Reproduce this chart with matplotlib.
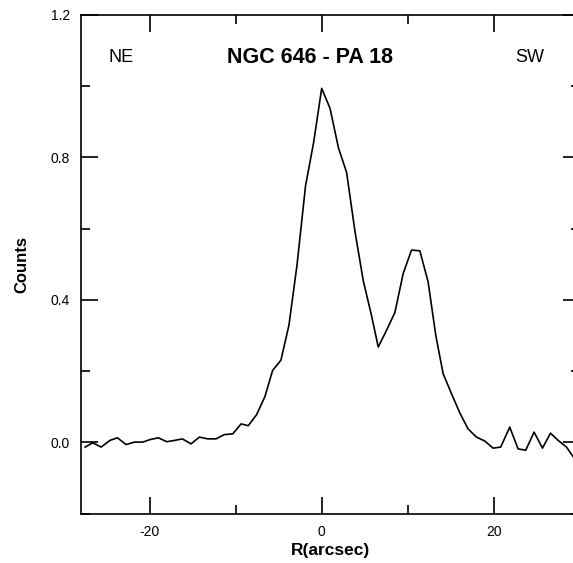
import matplotlib.pyplot as plt
from matplotlib.ticker import MultipleLocator, FormatStrFormatter

plt.rcParams['font.family'] = ['Liberation Sans', 'DejaVu Sans']
plt.rcParams['axes.unicode_minus'] = False

# perfil de intensidad a lo largo de la rendija
r_arcsec = [-27.52, -26.64, -25.66, -24.62, -23.76, -22.76, -21.79, -20.81,
            -19.97, -19.00, -18.02, -17.06, -16.21, -15.20, -14.23, -13.26,
            -12.29, -11.33, -10.35, -9.38, -8.54, -7.57, -6.60, -5.71,
            -4.74, -3.81, -2.87, -1.88, -0.93, 0.00, 0.97, 1.95,
            2.90, 3.87, 4.83, 5.79, 6.58, 7.55, 8.52, 9.48,
            10.45, 11.42, 12.38, 13.28, 14.13, 15.10, 16.07, 17.03,
            18.01, 18.97, 19.94, 20.83, 21.88, 22.85, 23.74, 24.71,
            25.69, 26.62, 27.50, 28.48, 29.45]
counts = [-0.013, -0.001, -0.013, 0.006, 0.013, -0.006, 0.001, 0.001,
          0.008, 0.013, 0.002, 0.006, 0.010, -0.004, 0.015, 0.010,
          0.010, 0.022, 0.024, 0.052, 0.047, 0.078, 0.129, 0.202,
          0.231, 0.329, 0.498, 0.720, 0.843, 0.994, 0.938, 0.827,
          0.758, 0.593, 0.455, 0.357, 0.268, 0.315, 0.365, 0.474,
          0.540, 0.538, 0.451, 0.300, 0.193, 0.137, 0.083, 0.038,
          0.015, 0.004, -0.016, -0.013, 0.043, -0.018, -0.022, 0.029,
          -0.016, 0.026, 0.006, -0.013, -0.047]

titulo = 'NGC 646 - PA 18'
lado_izq = 'NE'
lado_der = 'SW'

fig = plt.figure(figsize=(5.73, 5.63), dpi=100)
# el eje derecho queda fuera de la imagen, como en el original
ax = fig.add_axes([0.1414, 0.0876, 0.870, 0.8858])

ax.plot(r_arcsec, counts, color='black', lw=1.2)

ax.set_xlim(-28, 30)
ax.set_ylim(-0.2, 1.2)

ax.xaxis.set_major_locator(MultipleLocator(20))
ax.xaxis.set_minor_locator(MultipleLocator(10))
ax.yaxis.set_major_locator(MultipleLocator(0.4))
ax.yaxis.set_minor_locator(MultipleLocator(0.2))
ax.yaxis.set_major_formatter(FormatStrFormatter('%.1f'))

ax.tick_params(which='both', direction='in', top=True, right=True,
               width=1.2, labelsize=10)
ax.tick_params(which='major', length=12, pad=8)
ax.tick_params(which='minor', length=6.5)
for s in ax.spines.values():
    s.set_linewidth(1.2)

ax.set_xlabel('R(arcsec)', fontsize=12.5, fontweight='bold', labelpad=3)
ax.set_ylabel('Counts', fontsize=12, fontweight='bold', labelpad=15)

ax.text(-1.4, 1.082, titulo, fontsize=15.5, fontweight='bold',
        ha='center', va='center')
ax.text(-23.3, 1.082, lado_izq, fontsize=13, ha='center', va='center')
ax.text(24.2, 1.082, lado_der, fontsize=13, ha='center', va='center')

plt.savefig('out.png', dpi=100)
